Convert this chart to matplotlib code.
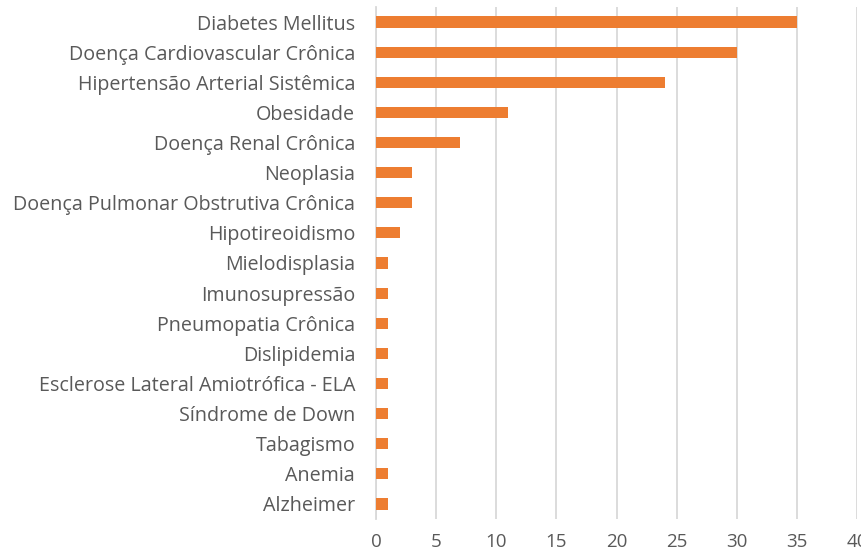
import matplotlib.pyplot as plt

# Comorbidades (de cima para baixo)
categorias = [
    "Diabetes Mellitus",
    "Doença Cardiovascular Crônica",
    "Hipertensão Arterial Sistêmica",
    "Obesidade",
    "Doença Renal Crônica",
    "Neoplasia",
    "Doença Pulmonar Obstrutiva Crônica",
    "Hipotireoidismo",
    "Mielodisplasia",
    "Imunosupressão",
    "Pneumopatia Crônica",
    "Dislipidemia",
    "Esclerose Lateral Amiotrófica - ELA",
    "Síndrome de Down",
    "Tabagismo",
    "Anemia",
    "Alzheimer",
]
valores = [35, 30, 24, 11, 7, 3, 3, 2, 1, 1, 1, 1, 1, 1, 1, 1, 1]
ticks_x = [0, 5, 10, 15, 20, 25, 30, 35, 40]

plt.rcParams['font.family'] = ['Open Sans', 'DejaVu Sans']

fig = plt.figure(figsize=(8.61, 5.55), dpi=100)
ax = fig.add_axes([376 / 861, 1 - 519 / 555, 481 / 861, 512 / 555])

pos = list(range(len(categorias)))
ax.barh(pos, valores, height=0.37, color='#ED7D31', zorder=3)

ax.set_yticks(pos)
ax.set_yticklabels(categorias)
ax.set_ylim(len(categorias) - 0.5, -0.5)
ax.set_xlim(0, 40)
ax.set_xticks(ticks_x)

ax.grid(axis='x', color='#d9d9d9', linewidth=1.3, zorder=0)
for s in ['top', 'right', 'bottom']:
    ax.spines[s].set_visible(False)
ax.spines['left'].set_color('#d9d9d9')
ax.spines['left'].set_linewidth(1.3)

ax.tick_params(axis='both', length=0, colors='#595959')
ax.tick_params(axis='y', labelsize=14.2, pad=15)
ax.tick_params(axis='x', labelsize=13.5, pad=10)

fig.savefig('out.png', dpi=100)
